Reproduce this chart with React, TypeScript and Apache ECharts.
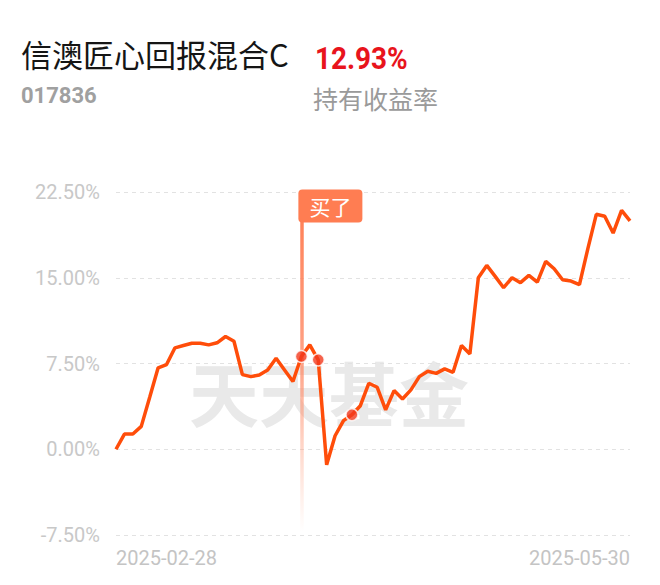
import React, { useEffect, useRef } from "react";
import * as echarts from "echarts";

const dates: string[] = [
  "2025-02-28",
  "2025-03-03", "2025-03-04", "2025-03-05", "2025-03-06", "2025-03-07",
  "2025-03-10", "2025-03-11", "2025-03-12", "2025-03-13", "2025-03-14",
  "2025-03-17", "2025-03-18", "2025-03-19", "2025-03-20", "2025-03-21",
  "2025-03-24", "2025-03-25", "2025-03-26", "2025-03-27", "2025-03-28",
  "2025-03-31", "2025-04-01", "2025-04-02", "2025-04-03",
  "2025-04-07", "2025-04-08", "2025-04-09", "2025-04-10", "2025-04-11",
  "2025-04-14", "2025-04-15", "2025-04-16", "2025-04-17", "2025-04-18",
  "2025-04-21", "2025-04-22", "2025-04-23", "2025-04-24", "2025-04-25",
  "2025-04-28", "2025-04-29", "2025-04-30",
  "2025-05-06", "2025-05-07", "2025-05-08", "2025-05-09",
  "2025-05-12", "2025-05-13", "2025-05-14", "2025-05-15", "2025-05-16",
  "2025-05-19", "2025-05-20", "2025-05-21", "2025-05-22", "2025-05-23",
  "2025-05-26", "2025-05-27", "2025-05-28", "2025-05-29", "2025-05-30",
];

const returns: number[] = [
  0.0, 1.33, 1.33, 2.0, 4.54, 7.12, 7.41, 8.87, 9.07, 9.27,
  9.27, 9.13, 9.31, 9.86, 9.45, 6.53, 6.35, 6.5, 6.94, 7.96,
  6.94, 5.92, 8.11, 9.13, 7.82, -1.36, 1.18, 2.5, 3.02, 3.81,
  5.77, 5.42, 3.44, 5.13, 4.4, 5.19, 6.35, 6.82, 6.64, 7.03,
  6.73, 9.07, 8.34, 15.0, 16.08, 15.12, 14.13, 15.0, 14.57, 15.21,
  14.62, 16.43, 15.79, 14.83, 14.71, 14.39, 17.55, 20.55, 20.38, 18.91,
  20.9, 19.97,
];

const buyIndex = 22;
const tradeDotIndices: number[] = [22, 24, 28];

const fundName = "信澳匠心回报混合C";
const fundCode = "017836";
const holdReturn = "12.93%";
const holdReturnLabel = "持有收益率";
const buyLabel = "买了";
const watermark = "天天基金";

const yTicks = { min: -7.5, max: 22.5, interval: 7.5 };

const labelBoxPath =
  "path://M4,0 H60 A4,4 0 0 1 64,4 V29 A4,4 0 0 1 60,33 H4 A4,4 0 0 1 0,29 V4 A4,4 0 0 1 4,0 Z";

export default function App() {
  const ref = useRef<HTMLDivElement>(null);

  useEffect(() => {
    if (!ref.current) return;
    const chart = echarts.init(ref.current, undefined, { renderer: "svg" });
    const last = dates.length - 1;

    chart.setOption({
      animation: false,
      backgroundColor: "#ffffff",
      grid: { left: 116, right: 30, top: 192, bottom: 50 },
      graphic: [
        {
          type: "text",
          left: 21,
          top: 38,
          style: {
            text: fundName,
            fontSize: 31,
            fontFamily: "Noto Sans CJK SC",
            fill: "#151515",
          },
        },
        {
          type: "text",
          x: 315,
          y: 58,
          scaleX: 0.9,
          style: {
            text: holdReturn,
            fontSize: 31,
            fontWeight: "bold",
            fontFamily: "Roboto",
            fill: "#e8141c",
            verticalAlign: "middle",
          },
        },
        {
          type: "text",
          x: 21,
          y: 95,
          style: {
            text: fundCode,
            fontSize: 22,
            fontWeight: "bold",
            fontFamily: "Roboto",
            fill: "#a0a0a0",
            verticalAlign: "middle",
          },
        },
        {
          type: "text",
          x: 313,
          y: 98,
          style: {
            text: holdReturnLabel,
            fontSize: 25,
            fontFamily: "Noto Sans CJK SC",
            fill: "#9a9a9a",
            verticalAlign: "middle",
          },
        },
        {
          type: "text",
          x: 329,
          y: 391,
          z: -10,
          style: {
            text: watermark,
            fontSize: 70,
            fontWeight: "bold",
            fontFamily: "Noto Sans CJK SC",
            fill: "#e9e9e9",
            align: "center",
            verticalAlign: "middle",
          },
        },
      ],
      xAxis: {
        type: "category",
        data: dates,
        boundaryGap: false,
        axisLine: { show: false },
        axisTick: { show: false },
        splitLine: { show: false },
        axisLabel: {
          interval: (i: number) => i === 0 || i === last,
          showMinLabel: true,
          showMaxLabel: true,
          alignMinLabel: "left",
          alignMaxLabel: "right",
          color: "#c4c4c4",
          fontSize: 20,
          fontFamily: "Roboto",
          margin: 13,
        },
      },
      yAxis: {
        type: "value",
        min: yTicks.min,
        max: yTicks.max,
        interval: yTicks.interval,
        axisLine: { show: false },
        axisTick: { show: false },
        axisLabel: {
          formatter: (v: number) => v.toFixed(2) + "%",
          color: "#c8c8c8",
          fontSize: 20,
          fontFamily: "Roboto",
          margin: 16,
        },
        splitLine: {
          lineStyle: { color: "#e2e2e2", type: [4, 4], width: 1 },
        },
      },
      series: [
        {
          type: "line",
          data: returns,
          showSymbol: false,
          symbol: "none",
          z: 3,
          lineStyle: { color: "#ff4d0a", width: 3.5 },
          markLine: {
            silent: true,
            symbol: ["none", "none"],
            label: { show: false },
            z: 1,
            lineStyle: {
              type: "solid",
              width: 3.5,
              color: {
                type: "linear",
                x: 0,
                y: 200,
                x2: 0,
                y2: 532,
                global: true,
                colorStops: [
                  { offset: 0, color: "rgba(255,125,82,1)" },
                  { offset: 0.5, color: "rgba(255,140,105,0.8)" },
                  { offset: 1, color: "rgba(255,170,140,0)" },
                ],
              },
            },
            data: [{ xAxis: dates[buyIndex] }],
          },
          markPoint: {
            silent: true,
            data: [
              {
                coord: [dates[buyIndex], yTicks.max],
                symbol: labelBoxPath,
                symbolKeepAspect: false,
                symbolSize: [64, 33],
                symbolOffset: [29, 14],
                itemStyle: { color: "#ff7d52" },
                label: {
                  show: true,
                  formatter: buyLabel,
                  color: "#ffffff",
                  fontSize: 21,
                  fontFamily: "Noto Sans CJK SC",
                  position: "inside",
                },
              },
            ],
          },
        },
        {
          type: "scatter",
          z: 4,
          data: tradeDotIndices.map((i) => [i, returns[i]]),
          symbolSize: 12,
          itemStyle: { color: "#f23a1e", borderColor: "#ffffff", borderWidth: 1.5 },
        },
      ],
    });

    return () => chart.dispose();
  }, []);

  return (
    <div
      ref={ref}
      style={{ position: "fixed", left: 0, top: 0, width: 660, height: 585 }}
    />
  );
}
